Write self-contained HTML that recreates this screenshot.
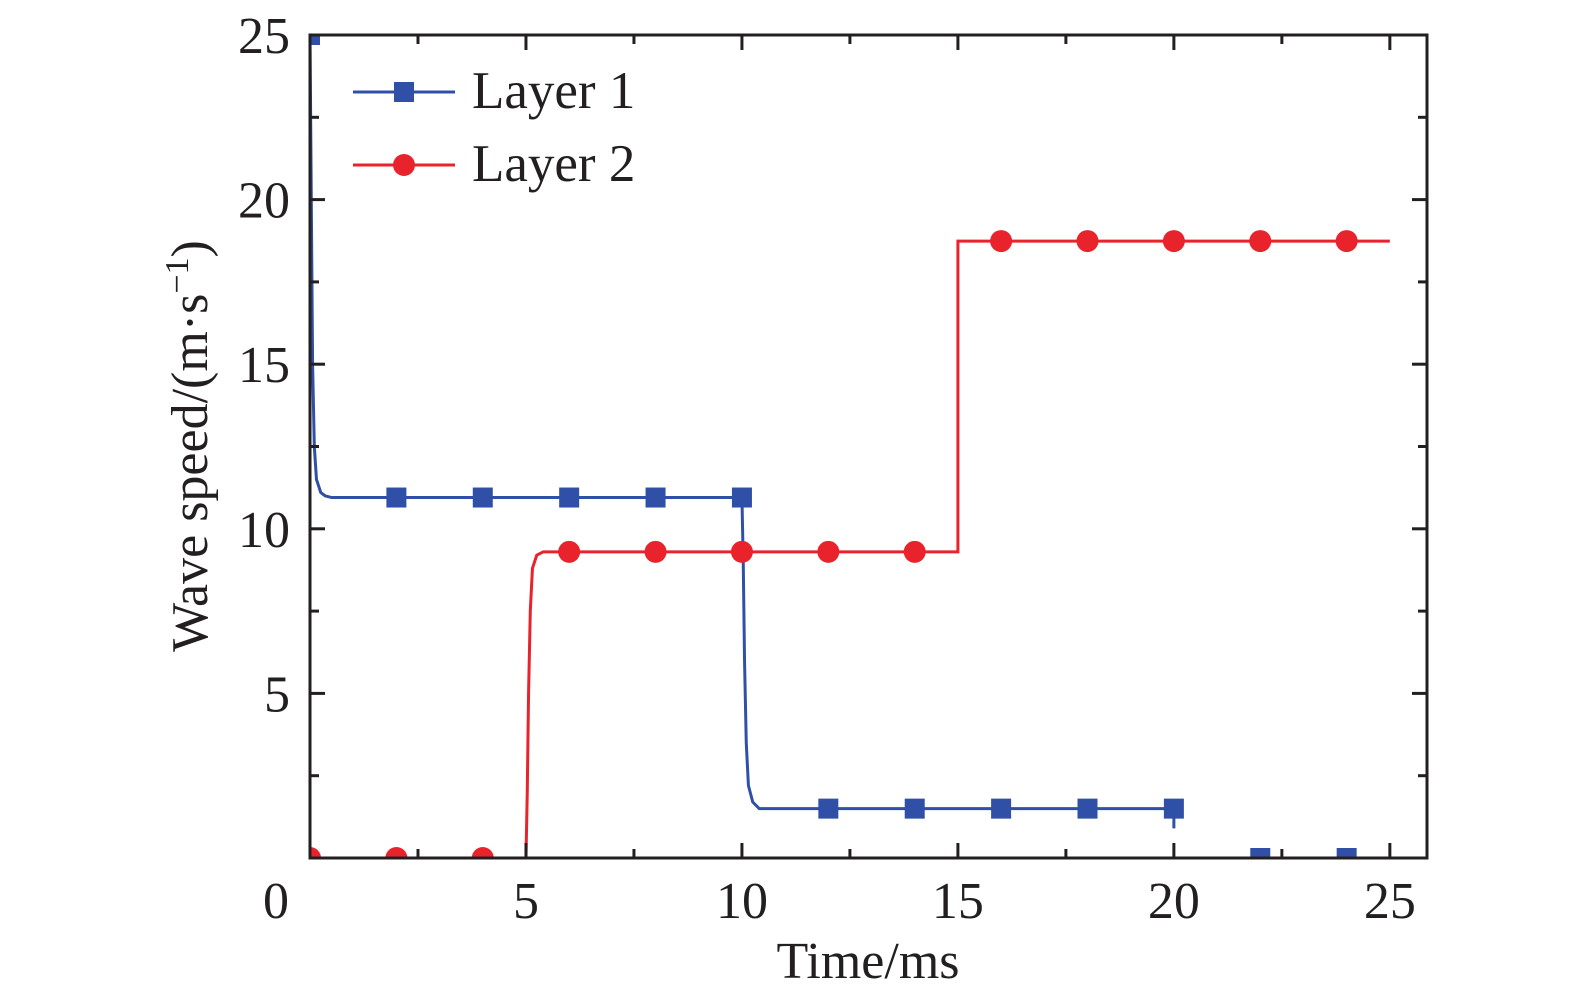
<!DOCTYPE html>
<html><head><meta charset="utf-8"><style>
html,body{margin:0;padding:0;background:#fff}
svg text{font-family:"Liberation Serif",serif;fill:#231f20}
</style></head><body>
<svg id="chart" width="1575" height="1002" xmlns="http://www.w3.org/2000/svg">
<g id="plot"></g>
</svg>
<script>
const xTicks=[0,5,10,15,20,25];
const yTicks=[5,10,15,20,25];
const layer1T=[0,0.03,0.06,0.1,0.15,0.25,0.35,0.5,2,4,6,8,10,10.03,10.06,10.1,10.15,10.25,10.4,12,14,16,18,20,20,20];
const layer1V=[25,20,15,12.5,11.5,11.1,11,10.95,10.95,10.95,10.95,10.95,10.95,9,6,3.5,2.2,1.7,1.5,1.5,1.5,1.5,1.5,1.5,1.0,0.9];
const layer1MarkT=[0,2,4,6,8,10,12,14,16,18,20,22,24];
const layer1MarkV2=[25,10.95,10.95,10.95,10.95,10.95,1.5,1.5,1.5,1.5,1.5,0,0];
const layer2T=[0,5,5.03,5.06,5.1,5.15,5.25,5.4,6,8,10,12,14,15,15,16,18,20,22,24,25];
const layer2V=[0,0,2,5,7.5,8.8,9.2,9.3,9.3,9.3,9.3,9.3,9.3,9.3,18.74,18.74,18.74,18.74,18.74,18.74,18.74];
const layer2MarkT=[0,2,4,6,8,10,12,14,16,18,20,22,24];
const layer2MarkV=[0,0,0,9.3,9.3,9.3,9.3,9.3,18.74,18.74,18.74,18.74,18.74];

const L=310,R=1427,T=35,B=858,XMAX=25.86,YMAX=25;
const xs=v=>L+v/XMAX*(R-L);
const ys=v=>B-v/YMAX*(B-T);
const NS="http://www.w3.org/2000/svg";
const g=document.getElementById('plot');
function mk(tag,attrs,parent){const e=document.createElementNS(NS,tag);for(const k in attrs)e.setAttribute(k,attrs[k]);(parent||g).appendChild(e);return e;}

const p1=mk('polyline',{points:layer1T.map((t,i)=>xs(t)+','+ys(layer1V[i])).join(' '),fill:'none',stroke:'#3050a8','stroke-width':3});


const p2=mk('polyline',{points:layer2T.map((t,i)=>xs(t)+','+ys(layer2V[i])).join(' '),fill:'none',stroke:'#e8232b','stroke-width':3});


layer2MarkT.forEach((t,i)=>{
  const c=mk('circle',{cx:xs(t),cy:ys(layer2MarkV[i]),r:11,fill:'#e8232b'});
  
  
});
layer1MarkT.forEach((t,i)=>{
  const s=mk('rect',{x:xs(t)-10,y:ys(layer1MarkV2[i])-10,width:20,height:20,fill:'#3050a8'});
  
  
});
mk('rect',{x:0,y:0,width:1575,height:T-1,fill:'#fff'});
mk('rect',{x:0,y:B+1,width:1575,height:1002-B,fill:'#fff'});
mk('rect',{x:0,y:0,width:L-1,height:1002,fill:'#fff'});
const fr=mk('rect',{x:L,y:T,width:R-L,height:B-T,fill:'none',stroke:'#231f20','stroke-width':3});


for(let v=0;v<=XMAX;v+=2.5){
  const len=(v%5===0)?15:9;
  mk('line',{x1:xs(v),x2:xs(v),y1:B,y2:B-len,stroke:'#231f20','stroke-width':3});
  mk('line',{x1:xs(v),x2:xs(v),y1:T,y2:T+len,stroke:'#231f20','stroke-width':3});
}
for(let v=2.5;v<=YMAX;v+=2.5){
  const len=(v%5===0)?15:9;
  mk('line',{x1:L,x2:L+len,y1:ys(v),y2:ys(v),stroke:'#231f20','stroke-width':3});
  mk('line',{x1:R,x2:R-len,y1:ys(v),y2:ys(v),stroke:'#231f20','stroke-width':3});
}
xTicks.forEach(v=>{
  const t=mk('text',{x:v===0?xs(v)-34:xs(v),y:918,'text-anchor':'middle','font-size':52});
  t.textContent=v;
  
  
});
yTicks.forEach(v=>{
  const t=mk('text',{x:290,y:ys(v)+18,'text-anchor':'end','font-size':52});
  t.textContent=v;
  
  
});
</script>
<svg style="position:absolute;left:0;top:0" width="1575" height="1002" xmlns="http://www.w3.org/2000/svg">
<text x="868" y="978" text-anchor="middle" font-size="52">Time/ms</text>
<text transform="translate(207,446) rotate(-90)" text-anchor="middle" font-size="52">Wave speed/(m·s<tspan dy="-19" font-size="34">−1</tspan><tspan dy="19">)</tspan></text>
<g>
<line x1="353" y1="92" x2="455" y2="92" stroke="#3050a8" stroke-width="3"/>
<rect x="394" y="82" width="20" height="20" fill="#3050a8"/>
<text x="472" y="108" font-size="53">Layer 1</text>
<line x1="353" y1="165" x2="455" y2="165" stroke="#e8232b" stroke-width="3"/>
<circle cx="404" cy="165" r="11" fill="#e8232b"/>
<text x="472" y="181" font-size="53">Layer 2</text>
</g>
</svg>
</body></html>
